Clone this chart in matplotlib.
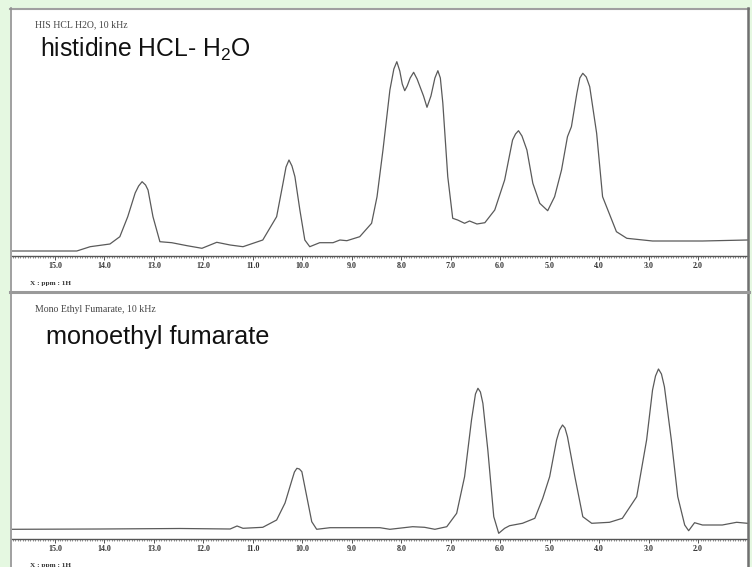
import numpy as np
import matplotlib
matplotlib.use("Agg")
import matplotlib.pyplot as plt
from matplotlib.lines import Line2D
from matplotlib.patches import Rectangle
from matplotlib.ticker import FixedLocator, MultipleLocator

plt.rcParams["mathtext.fontset"] = "custom"
plt.rcParams["mathtext.rm"] = "Liberation Sans"
plt.rcParams["mathtext.it"] = "Liberation Sans"

# Spectrum 1: histidine HCl - H2O (ppm, height in arbitrary units)
his_ppm = [15.87, 14.56, 14.29, 13.89, 13.69, 13.53, 13.38, 13.31, 13.24, 13.17,
           13.12, 13.02, 12.88, 12.64, 12.33, 12.03, 11.73, 11.46, 11.20, 10.80,
           10.52, 10.39, 10.33, 10.27, 10.21, 10.15, 10.05, 9.95, 9.85, 9.65,
           9.38, 9.24, 9.10, 8.84, 8.60, 8.49, 8.37, 8.23, 8.15, 8.09,
           8.03, 7.98, 7.93, 7.88, 7.82, 7.75, 7.68, 7.55, 7.48, 7.40,
           7.32, 7.26, 7.21, 7.16, 7.06, 6.96, 6.86, 6.72, 6.62, 6.47,
           6.31, 6.11, 5.91, 5.75, 5.69, 5.63, 5.56, 5.46, 5.34, 5.20,
           5.04, 4.90, 4.76, 4.64, 4.56, 4.45, 4.39, 4.33, 4.26, 4.19,
           4.05, 3.93, 3.81, 3.65, 3.44, 2.92, 1.91, 1.00]
his_int = [5, 5, 9.3, 12, 19.3, 39.3, 63, 70, 74.3, 71,
           66, 39.3, 14.3, 13.3, 10.3, 7.7, 13.7, 11, 9.3, 16,
           39.3, 73, 89, 96, 90, 79.3, 46, 16, 9.3, 13.3,
           13.3, 16, 15.3, 19.3, 32.7, 59.3, 106, 166, 187, 194.3,
           185, 172, 165.3, 170, 178, 183.7, 177, 160, 148.7, 160,
           178, 185.3, 178, 153, 79.3, 37.7, 36, 32.7, 35, 32,
           33.3, 46, 76, 116, 122, 125.3, 120, 106, 72.7, 52.7,
           45.3, 59.3, 86, 119.3, 129.3, 162.7, 178, 182.7, 179, 169.3,
           122.7, 59.3, 44.3, 24.3, 17.7, 15, 15, 16]

# Spectrum 2: monoethyl fumarate
mef_ppm = [15.87, 14.09, 12.47, 11.46, 11.32, 11.20, 10.80, 10.52, 10.35, 10.21,
           10.16, 10.11, 10.06, 10.01, 9.91, 9.81, 9.71, 9.44, 8.43, 8.23,
           7.77, 7.53, 7.32, 7.08, 6.88, 6.72, 6.58, 6.50, 6.45, 6.40,
           6.35, 6.25, 6.13, 6.03, 5.91, 5.81, 5.55, 5.30, 5.14, 5.00,
           4.86, 4.80, 4.74, 4.69, 4.64, 4.49, 4.33, 4.15, 3.79, 3.53,
           3.24, 3.04, 2.92, 2.86, 2.80, 2.74, 2.68, 2.54, 2.41, 2.27,
           2.19, 2.07, 1.91, 1.51, 1.22, 1.00]
mef_int = [9.7, 10, 10.5, 10, 13, 10.7, 11.7, 19, 36, 59,
           67, 70.7, 70, 67.3, 42.3, 17.3, 9.7, 11.3, 11.3, 9.7,
           12.3, 11.7, 9.7, 12.3, 25.7, 62.3, 119, 145, 150.7, 147,
           135.7, 89, 22.3, 5.7, 10.7, 13.3, 15.7, 20.7, 40.7, 62.3,
           99, 109, 114, 111, 102.3, 62.3, 22.3, 15.7, 16.7, 20.7,
           42.3, 99, 149, 163, 170, 165, 152.3, 99, 42.3, 14,
           8.3, 16.3, 14, 14, 16.7, 15.7]

small_titles = ["HIS HCL H2O, 10 kHz", "Mono Ethyl Fumarate, 10 kHz"]
big_titles = [r"histidine HCL- H$_\mathregular{2}$O", "monoethyl fumarate"]
tick_vals = list(range(2, 16))

W, H = 752, 567
fig = plt.figure(figsize=(W / 100, H / 100), dpi=100)
fig.patch.set_facecolor("#e5f8e1")


def px_rect(x0, y0, x1, y1):
    # image pixel box (top-left origin) -> figure fractions
    return [x0 / W, 1 - y1 / H, (x1 - x0) / W, (y1 - y0) / H]


def hline(y, x0, x1, color, lw):
    fig.add_artist(Line2D([x0 / W, x1 / W], [1 - y / H, 1 - y / H],
                          transform=fig.transFigure, color=color, lw=lw))


def vline(x, y0, y1, color, lw):
    fig.add_artist(Line2D([x / W, x / W], [1 - y0 / H, 1 - y1 / H],
                          transform=fig.transFigure, color=color, lw=lw))


# white panel and its frame
fig.add_artist(Rectangle((10 / W, 0), 738 / W, (H - 8) / H,
                         transform=fig.transFigure, facecolor="white",
                         edgecolor="none", zorder=0))
hline(8.5, 10, 749, "#a0a0a0", 1.5)
vline(11, 8, H, "#909090", 1.2)
vline(748, 8, H, "#707070", 1.8)
hline(292, 10, 749, "#9a9a9a", 2.2)

panels = [
    (his_ppm, his_int, 8, 256),
    (mef_ppm, mef_int, 293, 539),
]
title_sizes = [17.8, 18.2]

for i, (ppm, inten, top, base) in enumerate(panels):
    ax = fig.add_axes(px_rect(12, top, 748, base))
    ax.patch.set_alpha(0)
    ax.plot(ppm, inten, color="#5a5a5a", lw=0.9, solid_joinstyle="round")
    ax.set_xlim(15.87, 0.99)
    ax.set_ylim(0, base - top)
    for s in ["top", "left", "right"]:
        ax.spines[s].set_visible(False)
    ax.spines["bottom"].set_color("#555555")
    ax.spines["bottom"].set_linewidth(1.0)
    ax.set_yticks([])
    ax.xaxis.set_major_locator(FixedLocator(tick_vals))
    ax.xaxis.set_minor_locator(MultipleLocator(0.05))
    ax.set_xticklabels([f"{v:.1f}" for v in tick_vals],
                       fontfamily="Liberation Serif", fontweight="bold",
                       fontsize=5.8, color="#333333")
    ax.tick_params(axis="x", which="major", direction="out", length=3,
                   width=0.7, color="#555555", pad=1.5)
    ax.tick_params(axis="x", which="minor", direction="out", length=1.6,
                   width=0.5, color="#666666")

    fig.text(35 / W, 1 - (top + 17) / H, small_titles[i],
             fontfamily="Liberation Serif", fontsize=7, color="#444444",
             va="center", ha="left")
    fig.text((40 + 6 * i) / W, 1 - (top + 49 + 2 * i) / H, big_titles[i],
             fontfamily="Liberation Sans", fontsize=title_sizes[i],
             color="#111111", va="baseline", ha="left")
    fig.text(30 / W, 1 - (base + 27) / H, "X : ppm : 1H",
             fontfamily="Liberation Serif", fontweight="bold", fontsize=5.2,
             color="#333333", va="center", ha="left")

fig.savefig("out.png", dpi=100, facecolor=fig.get_facecolor())
